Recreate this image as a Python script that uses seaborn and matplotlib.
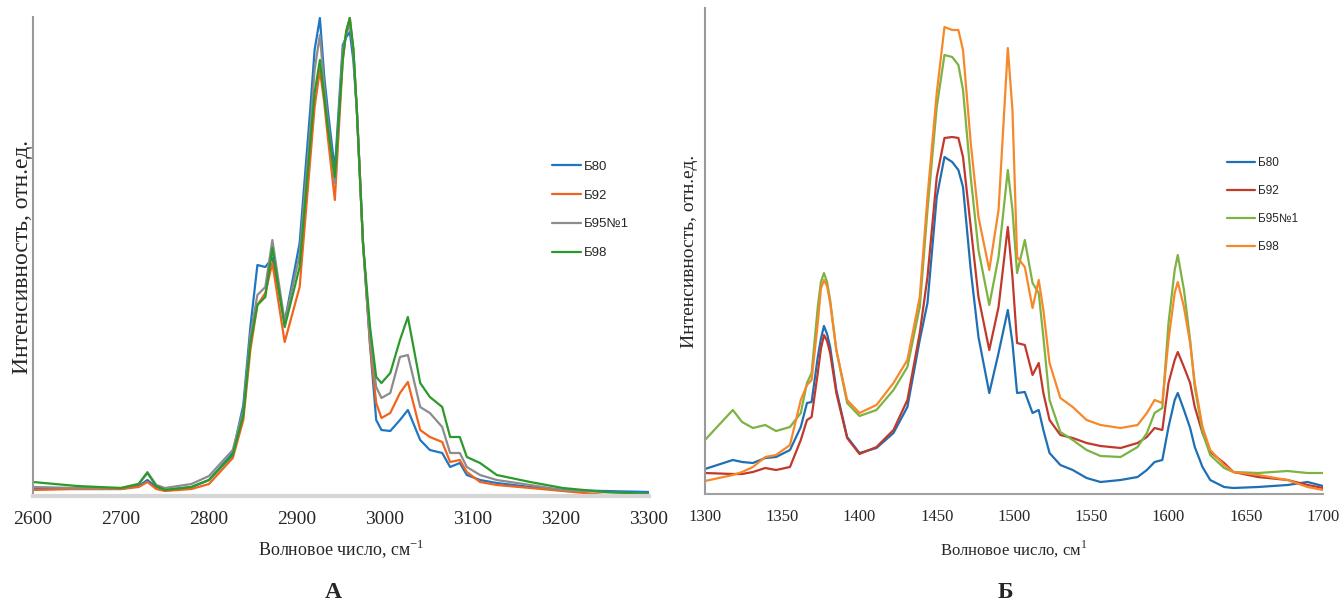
import numpy as np
import pandas as pd
import matplotlib
matplotlib.use("Agg")
import matplotlib.pyplot as plt
import seaborn as sns

# --- panel A: 2600-3300 cm-1 (intensity in arbitrary units) ---
wn_a = [2600, 2650, 2700, 2720, 2730, 2740, 2750, 2780, 2800, 2827, 2839, 2847, 2855,
        2864, 2872, 2886, 2903, 2915, 2920, 2926, 2931, 2935, 2943, 2952, 2956, 2960, 2964,
        2968, 2975, 2983, 2990, 2996, 3006, 3017, 3026, 3040, 3051, 3065, 3074, 3085, 3093,
        3108, 3127, 3165, 3202, 3250, 3300]
a_b80 = [8, 7, 7, 10, 16, 9, 6, 9, 16, 43, 91, 169, 231, 229, 238, 174, 253, 386, 446, 478,
         419, 386, 326, 451, 459, 464, 436, 386, 253, 151, 76, 66, 65, 76, 86, 56, 46, 43, 29,
         33, 21, 16, 13, 9, 6, 5, 4]
a_b92 = [6, 7, 7, 9, 14, 7, 5, 7, 12, 38, 76, 146, 191, 203, 233, 154, 209, 336, 389, 426,
         393, 359, 296, 436, 465, 478, 446, 386, 253, 151, 93, 78, 83, 103, 114, 66, 59, 54,
         34, 36, 24, 14, 11, 8, 5, 1, 1]
a_b95 = [9, 8, 8, 12, 24, 11, 8, 12, 20, 46, 86, 161, 201, 209, 256, 174, 241, 366, 426, 461,
         409, 376, 313, 446, 462, 471, 446, 386, 253, 156, 109, 98, 103, 139, 141, 89, 83, 69,
         43, 43, 29, 21, 16, 11, 6, 4, 2]
a_b98 = [14, 10, 8, 12, 23, 10, 6, 9, 16, 41, 81, 153, 191, 199, 248, 169, 229, 353, 403, 436,
         399, 369, 319, 436, 465, 478, 448, 386, 253, 169, 119, 113, 123, 156, 179, 113, 99,
         89, 59, 59, 39, 33, 21, 14, 8, 4, 2]

# --- panel Б: 1300-1700 cm-1 ---
wn_b = [1300, 1318, 1324, 1331, 1339, 1346, 1355, 1362, 1366, 1369, 1373, 1375, 1377, 1379,
        1381, 1385, 1392, 1400, 1411, 1422, 1431, 1439, 1444, 1450, 1455, 1460, 1464, 1467,
        1472, 1477, 1484, 1490, 1496, 1499, 1502, 1507, 1512, 1516, 1519, 1523, 1530, 1538,
        1547, 1556, 1569, 1580, 1586, 1591, 1596, 1600, 1604, 1606, 1610, 1614, 1617, 1622,
        1627, 1636, 1642, 1658, 1677, 1690, 1700]
b_b80 = [25, 34, 32, 31, 36, 37, 44, 67, 91, 92, 137, 155, 168, 160, 147, 104, 57, 41, 46, 61,
         87, 154, 191, 297, 337, 332, 324, 307, 224, 157, 101, 141, 184, 151, 101, 102, 81, 84,
         64, 41, 29, 24, 16, 12, 14, 17, 24, 32, 34, 67, 94, 101, 84, 66, 47, 27, 14, 7, 6, 7,
         9, 12, 8]
b_b92 = [21, 20, 20, 22, 26, 24, 27, 54, 74, 77, 121, 145, 159, 153, 141, 101, 56, 40, 47, 64,
         94, 161, 217, 317, 356, 357, 356, 337, 267, 197, 144, 187, 267, 217, 151, 149, 119,
         131, 101, 74, 59, 56, 51, 48, 46, 51, 57, 66, 64, 111, 134, 142, 127, 111, 87, 61, 42,
         31, 22, 17, 14, 9, 6]
b_b95 = [54, 84, 72, 66, 69, 63, 67, 81, 111, 121, 187, 212, 221, 212, 194, 144, 91, 78, 84,
         104, 127, 187, 284, 387, 439, 437, 429, 404, 317, 244, 189, 237, 324, 284, 221, 254,
         211, 201, 157, 94, 62, 54, 44, 38, 37, 47, 61, 81, 86, 171, 224, 239, 204, 154, 107,
         62, 39, 26, 22, 21, 23, 21, 21]
b_b98 = [13, 19, 22, 27, 37, 39, 49, 94, 109, 114, 171, 205, 214, 208, 191, 144, 94, 81, 89,
         111, 134, 197, 297, 401, 467, 464, 464, 444, 351, 277, 224, 284, 446, 384, 237, 227,
         186, 214, 184, 131, 96, 87, 74, 69, 66, 69, 81, 94, 91, 154, 201, 212, 187, 151, 111,
         67, 44, 29, 22, 19, 14, 7, 4]

labels = ["Б80", "Б92", "Б95№1", "Б98"]
colors_a = ["#1f77c4", "#f0641e", "#8c8c8c", "#2a9a2a"]
colors_b = ["#1f6fb4", "#c0392b", "#7cb342", "#f7882a"]

sns.set_style("white")
plt.rcParams["font.family"] = ["Liberation Serif", "DejaVu Serif"]

fig = plt.figure(figsize=(13.43, 6.01), dpi=100)
ax_a = fig.add_axes([33 / 1343, 1 - 496 / 601, 616 / 1343, 479 / 601])
ax_b = fig.add_axes([705 / 1343, 1 - 494 / 601, 618 / 1343, 486 / 601])

for vals, lab, col in zip([a_b80, a_b92, a_b95, a_b98], labels, colors_a):
    sns.lineplot(x=wn_a, y=vals, ax=ax_a, color=col, lw=1.6, label=lab,
                 solid_joinstyle="round")
for vals, lab, col in zip([b_b80, b_b92, b_b95, b_b98], labels, colors_b):
    sns.lineplot(x=wn_b, y=vals, ax=ax_b, color=col, lw=1.6, label=lab,
                 solid_joinstyle="round")

ax_a.set_xlim(2600, 3300)
ax_a.set_ylim(0, 479)
ax_a.set_xticks(range(2600, 3301, 100))
ax_b.set_xlim(1300, 1700)
ax_b.set_ylim(0, 486)
ax_b.set_xticks(range(1300, 1701, 50))

for ax, fs, xs_w in [(ax_a, 14, 3.0), (ax_b, 12, 1.5)]:
    ax.set_yticks([])
    for s in ["top", "right"]:
        ax.spines[s].set_visible(False)
    ax.spines["left"].set_color("#9a9a9a")
    ax.spines["left"].set_linewidth(1.5)
    ax.spines["bottom"].set_color("#d6d6d6" if ax is ax_a else "#a0a0a0")
    ax.spines["bottom"].set_linewidth(xs_w)
    ax.tick_params(axis="x", direction="out", length=5, width=1.2, color="#9a9a9a",
                   labelsize=fs, pad=6)

ax_a.set_xlabel("Волновое число, см$^{\\mathregular{-1}}$", fontsize=13, labelpad=6)
ax_b.set_xlabel("Волновое число, см$^{\\mathregular{1}}$", fontsize=12, labelpad=10)
ax_a.set_ylabel("Интенсивность, отн.ед.", fontsize=17, labelpad=0)
ax_b.set_ylabel("Интенсивность, отн.ед.", fontsize=14, labelpad=5)

ax_a.legend(loc="center left", bbox_to_anchor=(552 / 1343, 1 - 210 / 601),
            bbox_transform=fig.transFigure, frameon=False,
            handlelength=2.2, handletextpad=0.2, labelspacing=1.25,
            borderpad=0, borderaxespad=0, prop={"family": "Liberation Sans", "size": 9.5})
ax_b.legend(loc="center left", bbox_to_anchor=(1227 / 1343, 1 - 205 / 601),
            bbox_transform=fig.transFigure, frameon=False,
            handlelength=2.4, handletextpad=0.2, labelspacing=1.35,
            borderpad=0, borderaxespad=0, prop={"family": "Liberation Sans", "size": 8.5})

fig.text(333 / 1343, 1 - 592 / 601, "А", ha="center", va="center", fontsize=17, fontweight="bold")
fig.text(1005 / 1343, 1 - 592 / 601, "Б", ha="center", va="center", fontsize=17, fontweight="bold")

fig.savefig("out.png", dpi=100)
